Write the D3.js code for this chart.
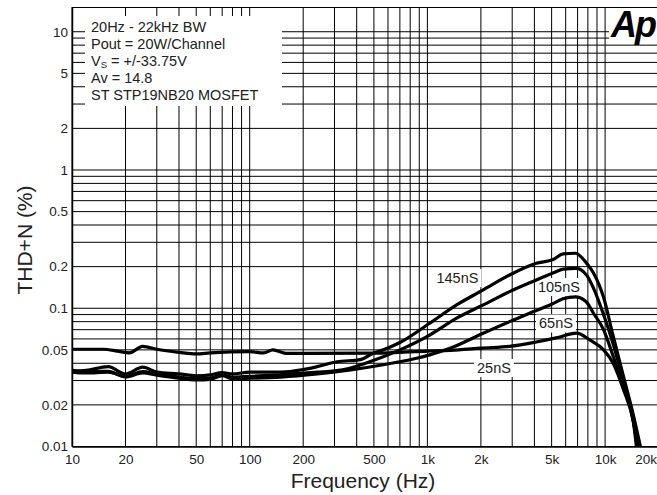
<!DOCTYPE html>
<html>
<head>
<meta charset="utf-8">
<script src="https://cdn.jsdelivr.net/npm/d3@7"></script>
<style>
  body { margin: 0; background: #fff; }
  svg { display: block; font-family: "Liberation Sans", Arial, sans-serif; }
</style>
</head>
<body>
<svg id="chart" width="657" height="495"></svg>
<script>
// tick values and labels
const xTicks = [10, 20, 50, 100, 200, 500, 1000, 2000, 5000, 10000, 20000];
const xTickLabels = ['10', '20', '50', '100', '200', '500', '1k', '2k', '5k', '10k', '20k'];
const yTicks = [0.01, 0.02, 0.05, 0.1, 0.2, 0.5, 1, 2, 5, 10];
const yTickLabels = ['0.01', '0.02', '0.05', '0.1', '0.2', '0.5', '1', '2', '5', '10'];

// THD+N (%) vs frequency (Hz)
const f145 = [10, 12, 16, 20, 25, 30, 40, 50, 60, 70, 80, 100, 150, 200, 240, 310, 420, 500, 565, 700, 1030, 1460, 2060, 2900, 4100, 5100, 5800, 6800, 7900, 8600, 9800, 11100, 12700, 14500, 15800];
const thd145 = [0.035, 0.0355, 0.0378, 0.0335, 0.0375, 0.0345, 0.0335, 0.0325, 0.033, 0.0342, 0.0335, 0.0345, 0.0345, 0.036, 0.0378, 0.041, 0.0425, 0.0475, 0.050, 0.0565, 0.0779, 0.1057, 0.1356, 0.174, 0.2115, 0.225, 0.247, 0.25, 0.21, 0.18, 0.12, 0.063, 0.032, 0.0164, 0.0100];

const f105 = [10, 12, 16, 20, 25, 30, 40, 50, 60, 70, 80, 100, 150, 240, 300, 370, 500, 700, 1030, 1460, 2060, 2900, 4100, 5300, 5800, 6900, 7900, 8600, 9800, 11100, 12700, 14500, 15300];
const thd105 = [0.0345, 0.034, 0.0345, 0.0322, 0.0348, 0.0334, 0.0318, 0.031, 0.0312, 0.033, 0.0318, 0.0322, 0.033, 0.0345, 0.0352, 0.037, 0.042, 0.050, 0.064, 0.0847, 0.1057, 0.1318, 0.160, 0.184, 0.192, 0.1945, 0.172, 0.14, 0.09, 0.055, 0.029, 0.0147, 0.0100];

const f65 = [10, 12, 16, 20, 25, 30, 40, 50, 60, 70, 80, 100, 150, 240, 370, 565, 700, 870, 1030, 1340, 2060, 2900, 4000, 5000, 5800, 6800, 7800, 8600, 9800, 11100, 12700, 14300, 15000];
const thd65 = [0.0355, 0.0348, 0.035, 0.0318, 0.034, 0.0328, 0.0312, 0.0303, 0.0306, 0.0325, 0.031, 0.0312, 0.0318, 0.0335, 0.0358, 0.039, 0.041, 0.0435, 0.046, 0.0513, 0.066, 0.08, 0.095, 0.107, 0.117, 0.121, 0.112, 0.092, 0.07, 0.045, 0.027, 0.0164, 0.0100];

const f25 = [10, 15, 18, 21, 25, 30, 40, 50, 60, 100, 120, 135, 160, 200, 500, 1000, 1500, 2000, 2900, 4100, 5300, 6900, 8200, 9800, 11100, 12700, 14500, 15200];
const thd25 = [0.0505, 0.0505, 0.049, 0.0475, 0.053, 0.0505, 0.048, 0.0467, 0.0475, 0.0485, 0.0475, 0.050, 0.0472, 0.0472, 0.0473, 0.049, 0.050, 0.0515, 0.053, 0.057, 0.061, 0.066, 0.059, 0.050, 0.040, 0.0257, 0.0147, 0.0100];

// curve labels, anchored at data coordinates
const labelNames = ['145nS', '105nS', '65nS', '25nS'];
const labelFreq = [1476, 5500, 5290, 2370];
const labelThd = [0.1655, 0.1426, 0.0777, 0.037];

const legendLines = ['20Hz - 22kHz BW', 'Pout = 20W/Channel', 'VS', 'Av = 14.8', 'ST STP19NB20 MOSFET'];

const series = [
  { f: f145, v: thd145 },
  { f: f105, v: thd105 },
  { f: f65, v: thd65 },
  { f: f25, v: thd25 }
];

const svg = d3.select('#chart');
const plotLeft = 72, plotTop = 7, plotRight = 658.6, plotBottom = 446.5;

const x = d3.scaleLog().domain([10, 20000]).range([plotLeft, plotRight]);
const y = d3.scaleLog().domain([0.01, 15.1]).range([plotBottom, plotTop]);

// grid
const grid = svg.append('g').attr('stroke', '#000').attr('stroke-width', 1);
grid.selectAll('line.v')
  .data(x.ticks().filter(d => d <= 20000))
  .join('line')
    .attr('class', 'v')
    .attr('x1', d => x(d)).attr('x2', d => x(d))
    .attr('y1', plotTop).attr('y2', plotBottom);
grid.selectAll('line.h')
  .data(y.ticks().filter(d => d <= 10))
  .join('line')
    .attr('class', 'h')
    .attr('x1', plotLeft).attr('x2', 657)
    .attr('y1', d => y(d)).attr('y2', d => y(d));
grid.append('line')
  .attr('x1', plotLeft).attr('x2', 657)
  .attr('y1', plotTop + 0.5).attr('y2', plotTop + 0.5);

// white boxes that break the grid
svg.append('rect').attr('x', 85).attr('y', 16).attr('width', 197).attr('height', 90).attr('fill', '#fff');
svg.append('rect').attr('x', 609).attr('y', 8).attr('width', 48).attr('height', 33).attr('fill', '#fff');

// axes
const yAxis = svg.append('g')
  .attr('transform', `translate(${plotLeft},0)`)
  .call(d3.axisLeft(y).tickValues(yTicks).tickFormat((d, i) => yTickLabels[i]).tickSize(0).tickPadding(4));
const xAxis = svg.append('g')
  .attr('transform', `translate(0,${plotBottom})`)
  .call(d3.axisBottom(x).tickValues(xTicks).tickFormat((d, i) => xTickLabels[i]).tickSize(0).tickPadding(8));

[yAxis, xAxis].forEach(a => {
  a.attr('font-family', null).attr('font-size', null);
  a.selectAll('text').attr('font-size', 13.5).attr('fill', '#222');
  a.select('.domain').attr('stroke', '#000').attr('stroke-width', 1.5);
});
xAxis.selectAll('.tick text').filter(d => d === 20000)
  .attr('text-anchor', 'end').attr('x', -2);

// curve label boxes
const labels = svg.append('g');
labelNames.forEach((name, i) => {
  const g = labels.append('g');
  const t = g.append('text')
    .attr('x', x(labelFreq[i]))
    .attr('y', y(labelThd[i]))
    .attr('dy', '0.35em')
    .attr('text-anchor', 'middle')
    .attr('font-size', 14.5)
    .attr('fill', '#222')
    .text(name);
  const b = t.node().getBBox();
  g.insert('rect', 'text')
    .attr('x', b.x - 3).attr('y', b.y - 1)
    .attr('width', b.width + 6).attr('height', b.height + 2)
    .attr('fill', '#fff');
});

// curves
svg.append('clipPath').attr('id', 'plotclip')
  .append('rect').attr('x', plotLeft).attr('y', plotTop).attr('width', plotRight - plotLeft).attr('height', plotBottom - plotTop + 1);

const line = d3.line()
  .x(d => x(d[0]))
  .y(d => y(d[1]))
  .curve(d3.curveMonotoneX);

svg.append('g')
  .attr('clip-path', 'url(#plotclip)')
  .selectAll('path')
  .data(series)
  .join('path')
    .attr('d', s => line(s.f.map((f, i) => [f, s.v[i]])))
    .attr('fill', 'none')
    .attr('stroke', '#000')
    .attr('stroke-width', 3.2)
    .attr('stroke-linejoin', 'round');

// legend text
const legend = svg.append('g').attr('font-size', 14.5).attr('fill', '#222');
legendLines.forEach((txt, i) => {
  const t = legend.append('text').attr('x', 91).attr('y', 31.5 + i * 17.2);
  if (txt === 'VS') {
    t.append('tspan').text('V');
    t.append('tspan').attr('font-size', 9.5).attr('dy', 2.5).text('S');
    t.append('tspan').attr('dy', -2.5).text(' = +/-33.75V');
  } else {
    t.text(txt);
  }
});

// Ap logo
svg.append('text')
  .attr('x', 611).attr('y', 36.5)
  .attr('font-size', 36)
  .attr('font-weight', 'bold')
  .attr('font-style', 'italic')
  .attr('letter-spacing', -2)
  .attr('fill', '#000')
  .text('Ap');

// axis titles
svg.append('text')
  .attr('x', 363).attr('y', 488)
  .attr('text-anchor', 'middle')
  .attr('font-size', 21)
  .attr('fill', '#222')
  .text('Frequency (Hz)');
svg.append('text')
  .attr('transform', 'translate(32,240) rotate(-90)')
  .attr('text-anchor', 'middle')
  .attr('font-size', 21)
  .attr('fill', '#222')
  .text('THD+N (%)');
</script>
</body>
</html>
